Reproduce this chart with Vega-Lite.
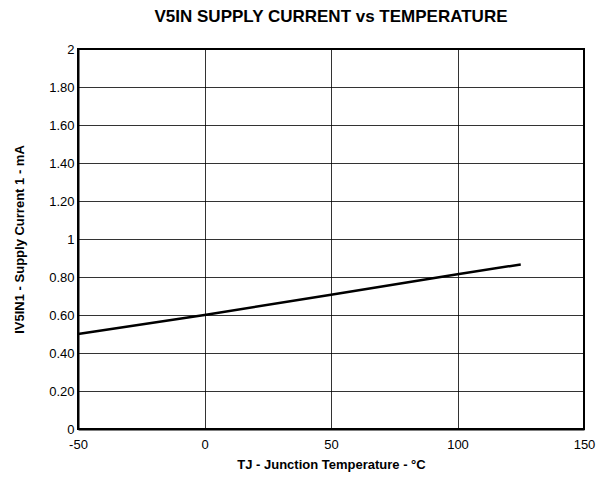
{
  "$schema": "https://vega.github.io/schema/vega-lite/v6.json",
  "width": 506,
  "height": 380,
  "autosize": {"type": "none"},
  "padding": {"left": 78, "top": 49, "right": 14, "bottom": 52},
  "title": {
    "text": "V5IN SUPPLY CURRENT vs TEMPERATURE",
    "font": "Liberation Sans",
    "fontSize": 17,
    "fontWeight": "bold",
    "color": "black",
    "offset": 17,
    "anchor": "middle"
  },
  "config": {
    "view": {"stroke": "black", "strokeWidth": 2},
    "axis": {
      "labelFont": "Liberation Sans",
      "labelFontSize": 13,
      "labelColor": "black",
      "titleFont": "Liberation Sans",
      "titleFontSize": 13,
      "titleFontWeight": "bold",
      "titleColor": "black",
      "gridColor": "black",
      "gridOpacity": 0.8,
      "gridWidth": 1,
      "domainColor": "black",
      "domainWidth": 2,
      "ticks": false,
      "labelPadding": 4
    }
  },
  "data": {
    "values": [
      {"t": -50, "i": 0.50},
      {"t": 0, "i": 0.60},
      {"t": 50, "i": 0.707},
      {"t": 100, "i": 0.815},
      {"t": 125, "i": 0.866}
    ]
  },
  "mark": {"type": "line", "color": "black", "strokeWidth": 2.5},
  "encoding": {
    "x": {
      "field": "t",
      "type": "quantitative",
      "scale": {"domain": [-50, 150], "nice": false},
      "axis": {
        "values": [-50, 0, 50, 100, 150],
        "labelExpr": "toString(datum.value)",
        "labelPadding": 9,
        "title": "TJ - Junction Temperature - °C",
        "titlePadding": 7,
        "labelFlush": false
      }
    },
    "y": {
      "field": "i",
      "type": "quantitative",
      "scale": {"domain": [0, 2], "nice": false},
      "axis": {
        "values": [0, 0.2, 0.4, 0.6, 0.8, 1, 1.2, 1.4, 1.6, 1.8, 2],
        "labelExpr": "datum.value == 0 ? '0' : datum.value == 1 ? '1' : datum.value == 2 ? '2' : format(datum.value, '.2f')",
        "title": "IV5IN1 - Supply Current 1 - mA",
        "titlePadding": 22,
        "labelFlush": false
      }
    }
  }
}
